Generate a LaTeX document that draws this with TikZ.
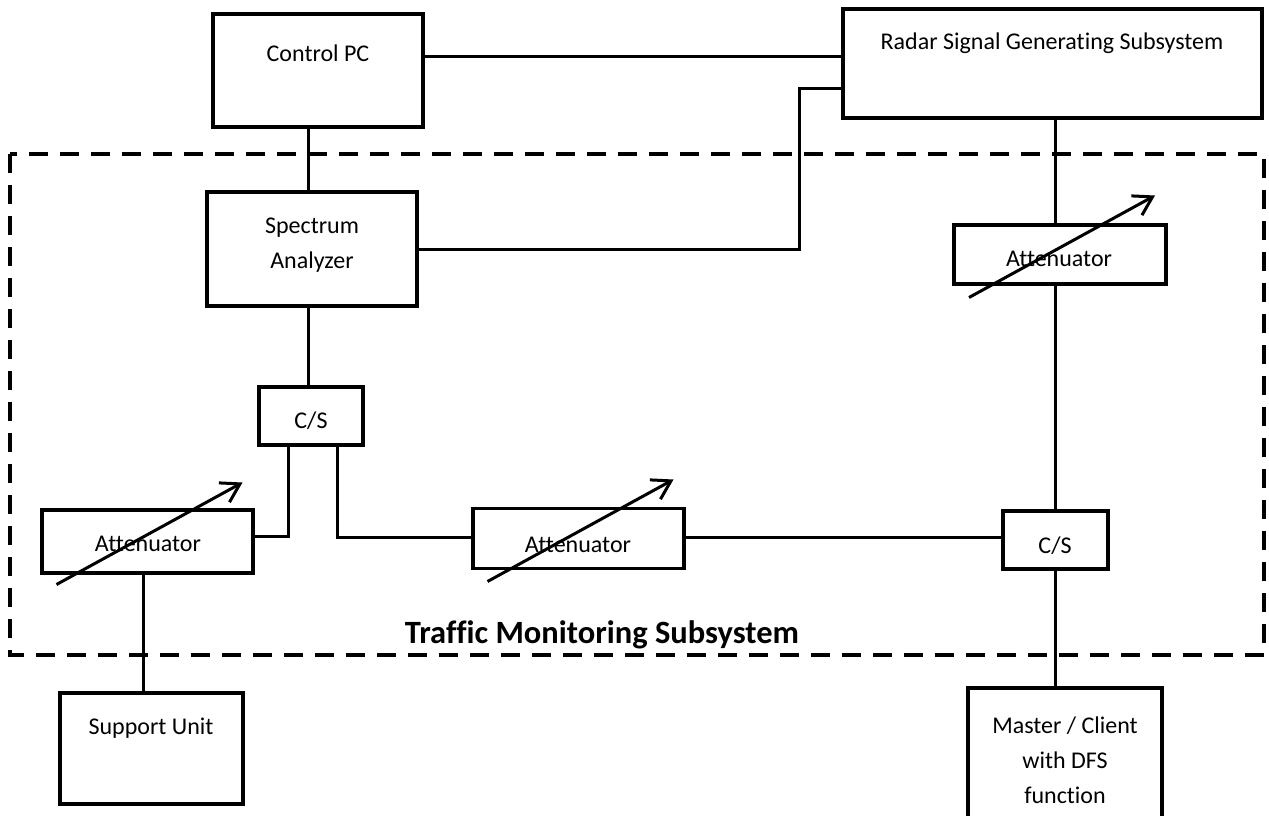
\documentclass[tikz,border=0pt]{standalone}
\usepackage{fontspec}
\setmainfont{Carlito}[Ligatures=NoCommon]
\usetikzlibrary{arrows.meta,calc}
\begin{document}
\begin{tikzpicture}[x=1pt,y=-1pt,
  box/.style={draw, line width=3.3pt, inner sep=0pt, outer sep=0pt, rectangle},
  lbl/.style={font=\fontsize{24}{35}\selectfont, inner sep=0pt, align=center},
  wire/.style={line width=3pt},
  tune/.style={line width=3pt, -{Straight Barb[length=18pt,width=22pt,line width=3pt]}},
  group/.style={draw, dash pattern=on 19pt off 12pt, line width=3.5pt}]
\useasboundingbox (0,0) rectangle (1269,816);
\clip (0,0) rectangle (1269,816);

% group outline
\draw[group] (10,154) rectangle (1264,655);
\node[font=\bfseries\fontsize{32.5}{38}\selectfont, inner sep=0pt, anchor=base] (tms) at (602,643) {Traffic Monitoring Subsystem};

% boxes
\node[box, minimum width=210pt, minimum height=113pt] (pc) at (318,70.5) {};
\node[lbl, anchor=base] (pct) at (318,62) {Control PC};
\node[box, minimum width=419pt, minimum height=109pt] (radar) at (1052.5,63.5) {};
\node[lbl, anchor=base] (radart) at (1052,49) {Radar Signal Generating Subsystem};
\node[box, minimum width=210pt, minimum height=114pt] (sa) at (312,249) {};
\node[lbl] (sat) at (312,245) {Spectrum\\Analyzer};
\node[box, minimum width=104pt, minimum height=58pt] (cs1) at (311,416) {};
\node[lbl, anchor=base] (cs1t) at (311,428) {C/S};
\node[box, minimum width=211pt, minimum height=63pt] (att1) at (147.5,541.5) {};
\node[lbl, anchor=base] (att1t) at (148,551) {Attenuator};
\node[box, minimum width=211pt, minimum height=60pt] (att2) at (578.5,538.5) {};
\node[lbl, anchor=base] (att2t) at (578,552) {Attenuator};
\node[box, minimum width=212pt, minimum height=59pt] (att3) at (1060,254.5) {};
\node[lbl, anchor=base] (att3t) at (1059,266) {Attenuator};
\node[box, minimum width=105pt, minimum height=58pt] (cs2) at (1055.5,540) {};
\node[lbl, anchor=base] (cs2t) at (1055,553) {C/S};
\node[box, minimum width=183pt, minimum height=111pt] (su) at (151.5,748.5) {};
\node[lbl, anchor=base] (sut) at (151,734) {Support Unit};
\node[box, minimum width=194pt, minimum height=160pt] (ms) at (1065,768) {};
\node[lbl] (mst) at (1065,760) {Master / Client\\with DFS\\function};

% helper coordinates
\coordinate (y57) at (0,57);
\coordinate (y88) at (0,88);
\coordinate (x308) at (308,0);
\coordinate (r2) at (799,88);
\coordinate (x1055) at (1055,0);
\coordinate (x288) at (288,0);
\coordinate (x337) at (337,0);
\coordinate (x143) at (143,0);
\coordinate (j1) at (288,536);
\coordinate (j2) at (337,537);

% connectors
\draw[wire] (pc.east |- y57) -- (radar.west |- y57);
\draw[wire] (radar.west |- y88) -- (r2) |- (sa.east);
\draw[wire] (pc.south -| x308) -- (sa.north -| x308);
\draw[wire] (sa.south -| x308) -- (cs1.north -| x308);
\draw[wire] (radar.south -| x1055) -- (att3.north -| x1055);
\draw[wire] (att3.south -| x1055) -- (cs2.north -| x1055);
\draw[wire] (cs2.south -| x1055) -- (ms.north -| x1055);
\draw[wire] (cs1.south -| x288) -- (j1) -- (att1.east |- j1);
\draw[wire] (cs1.south -| x337) -- (j2) -- (att2.west |- j2);
\draw[wire] (att2.east |- j2) -- (cs2.west |- j2);
\draw[wire] (att1.south -| x143) -- (su.north -| x143);

% variable attenuator arrows
\foreach \a in {att1,att2,att3}{
  \draw[tune] ([shift={(-91,43)}]\a.center) -- ([shift={(95,-59)}]\a.center);
}
\end{tikzpicture}
\end{document}
